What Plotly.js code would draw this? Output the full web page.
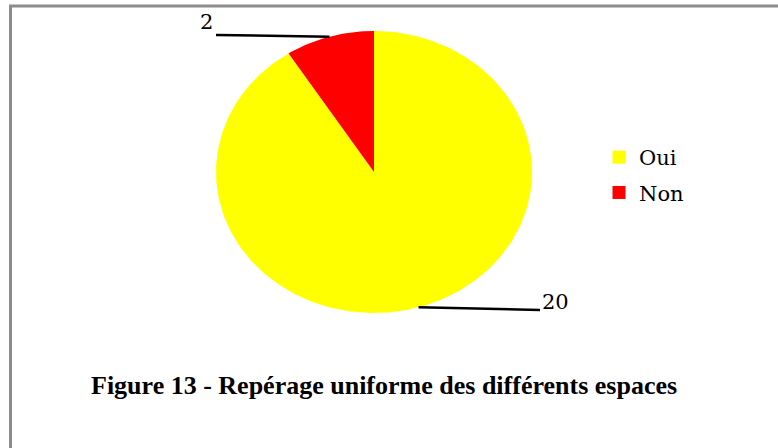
<!DOCTYPE html>
<html>
<head>
<meta charset="utf-8">
<script src="https://cdn.plot.ly/plotly-3.0.1.min.js"></script>
<style>html,body{margin:0;padding:0;background:#fff;}#chart{width:778px;height:448px;}</style>
</head>
<body>
<div id="chart"></div>
<script>
// ---- data ----
const categories = ["Oui", "Non"];
const values = [20, 2];
const colors = ["#FFFF00", "#FF0000"];
const chartTitle = "Figure 13 - Repérage uniforme des différents espaces";

// ---- geometry (layout, in axis units = pixels) ----
const CX = 374, CY = 172, RX = 158, RY = 141;
const labelEnds = [[540, 310], [216, 35]];      // outer end of leader lines
const labelPos = [[555, 302], [206, 22]];       // label text centres
const SERIF_BOLD = "'Liberation Serif', 'Times New Roman', 'DejaVu Serif', serif";
const SERIF = "'DejaVu Serif', serif";

const total = values.reduce((a, b) => a + b, 0);
function pt(theta) { // theta: clockwise radians from top
  return [CX + RX * Math.sin(theta), CY - RY * Math.cos(theta)];
}
const traces = [];
const shapes = [];
const annotations = [];
let start = 0;
values.forEach((v, i) => {
  const sweep = v / total * 2 * Math.PI;
  const n = Math.max(8, Math.ceil(sweep / (2 * Math.PI) * 360));
  const xs = [CX], ys = [CY];
  for (let k = 0; k <= n; k++) {
    const p = pt(start + sweep * k / n);
    xs.push(p[0]); ys.push(p[1]);
  }
  xs.push(CX); ys.push(CY);
  traces.push({
    type: "scatter", mode: "lines", x: xs, y: ys, fill: "toself",
    fillcolor: colors[i], line: {width: 0, color: colors[i]},
    showlegend: false, hoverinfo: "skip"
  });
  const mid = pt(start + sweep / 2);
  shapes.push({type: "line", xref: "x", yref: "y",
    x0: mid[0], y0: mid[1], x1: labelEnds[i][0], y1: labelEnds[i][1],
    line: {color: "#000", width: 2.5}});
  annotations.push({xref: "x", yref: "y", x: labelPos[i][0], y: labelPos[i][1],
    text: String(v), showarrow: false,
    font: {family: SERIF, size: 21, color: "#000"}});
  start += sweep;
});
// legend entries
categories.forEach((c, i) => {
  traces.push({type: "scatter", mode: "markers", x: [null], y: [null], name: c,
    legendgroup: "g" + i,
    marker: {symbol: "square", size: 13, color: colors[i]}});
});
// frame border
shapes.push({type: "rect", xref: "x", yref: "y", x0: 10.5, y0: 6, x1: 800, y1: 470,
  line: {color: "#8c8c8c", width: 3}, layer: "above"});
annotations.push({xref: "x", yref: "y", x: 384, y: 385, text: "<b>" + chartTitle + "</b>",
  showarrow: false, font: {family: SERIF_BOLD, size: 26, color: "#000"}});

const layout = {
  width: 778, height: 448,
  margin: {l: 0, r: 0, t: 0, b: 0},
  paper_bgcolor: "#fff", plot_bgcolor: "#fff",
  xaxis: {range: [0, 778], visible: false, fixedrange: true},
  yaxis: {range: [448, 0], visible: false, fixedrange: true},
  showlegend: true,
  legend: {x: 599 / 778, xanchor: "left", y: 1 - 137 / 448, yanchor: "top",
    font: {family: SERIF, size: 21, color: "#000"},
    tracegroupgap: 5, bgcolor: "rgba(0,0,0,0)"},
  shapes: shapes,
  annotations: annotations
};
Plotly.newPlot("chart", traces, layout, {staticPlot: true});
</script>
</body>
</html>
